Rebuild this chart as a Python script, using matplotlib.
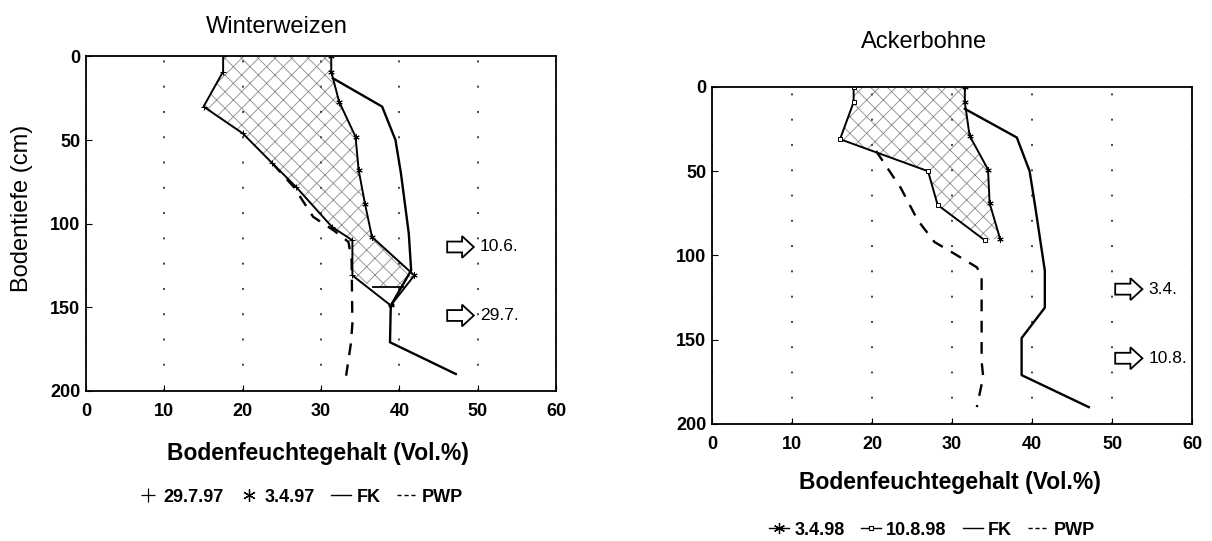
import numpy as np
import matplotlib.pyplot as plt
from matplotlib.lines import Line2D
from matplotlib.patches import FancyArrow

plt.rcParams['font.family'] = ['Liberation Sans', 'DejaVu Sans']
plt.rcParams['hatch.linewidth'] = 0.6

# ---- Winterweizen (values in Vol.%, depths in cm) ----
ww_2907_depth = [0, 9, 30, 46, 64, 78, 102, 110, 131, 149]
ww_2907_val = [17.5, 17.5, 15.0, 20.0, 23.8, 26.8, 31.4, 34.0, 34.0, 38.9]
ww_0304_depth = [0, 9, 27, 48, 68, 88, 108, 131, 149]
ww_0304_val = [31.3, 31.3, 32.3, 34.4, 34.8, 35.6, 36.5, 41.9, 38.9]
ww_fill_bottom_depth = [138, 138]
ww_fill_bottom_val = [36.6, 40.5]
ww_fk_depth = [13, 30, 50, 70, 106, 128, 149, 171, 190]
ww_fk_val = [31.5, 37.8, 39.5, 40.2, 41.2, 41.5, 38.9, 38.8, 47.2]
ww_pwp_depth = [64, 78, 96, 104, 111, 122, 160, 172, 191]
ww_pwp_val = [23.8, 26.5, 29.0, 31.6, 33.5, 33.9, 34.0, 33.8, 33.2]
ww_arrow_x = 46.1
ww_arrow_depth = [114, 155]
ww_arrow_text = ['10.6.', '29.7.']

# ---- Ackerbohne ----
ab_0304_depth = [0, 9, 29, 49, 69, 90]
ab_0304_val = [31.6, 31.6, 32.2, 34.5, 34.7, 36.0]
ab_1008_depth = [0, 9, 31, 50, 70, 91]
ab_1008_val = [17.7, 17.7, 16.0, 27.0, 28.2, 34.1]
ab_fk_depth = [13, 30, 50, 71, 109, 131, 149, 171, 190]
ab_fk_val = [31.6, 38.1, 39.7, 40.4, 41.6, 41.6, 38.7, 38.7, 47.1]
ab_pwp_depth = [38, 60, 79, 92, 99, 107, 112, 163, 172, 190]
ab_pwp_val = [20.5, 23.6, 25.7, 27.8, 30.3, 33.1, 33.7, 33.7, 33.9, 33.1]
ab_arrow_x = 50.4
ab_arrow_depth = [120, 161]
ab_arrow_text = ['3.4.', '10.8.']

star = (6, 2, 0)

fig = plt.figure(figsize=(12.12, 5.41), dpi=100)
ax1 = fig.add_axes([0.071, 0.2778, 0.3878, 0.6178])
ax2 = fig.add_axes([0.5875, 0.2163, 0.396, 0.623])


def style(ax):
    ax.set_xlim(0, 60)
    ax.set_ylim(200, 0)
    ax.set_xticks(range(0, 70, 10))
    ax.set_yticks(range(0, 250, 50))
    ax.xaxis.grid(True, linestyle=(0, (1, 12)), color='#444444', linewidth=1.4)
    ax.tick_params(direction='in', length=4, labelsize=13)
    ax.tick_params(axis='x', pad=9)
    ax.tick_params(axis='y', pad=4)
    for lab in ax.get_xticklabels() + ax.get_yticklabels():
        lab.set_fontweight('bold')
    for s in ax.spines.values():
        s.set_linewidth(1.3)


def arrows(ax, x0, depths, texts):
    for d, t in zip(depths, texts):
        ax.add_patch(FancyArrow(x0, d, 3.4, 0, width=6.5, head_width=13, head_length=1.5,
                                length_includes_head=True, fc='white', ec='black', lw=1.3))
        ax.text(x0 + 4.2, d, t, fontsize=12.5, va='center', ha='left')


# left panel
poly_x = ww_2907_val[:-1] + ww_fill_bottom_val + ww_0304_val[:-1][::-1]
poly_y = ww_2907_depth[:-1] + ww_fill_bottom_depth + ww_0304_depth[:-1][::-1]
ax1.fill(poly_x, poly_y, facecolor='white', edgecolor='#8a8a8a', hatch='xx', linewidth=0)
ax1.plot(ww_fill_bottom_val, ww_fill_bottom_depth, color='black', lw=1.3)
ax1.plot(ww_2907_val, ww_2907_depth, color='black', lw=1.4, marker='+', ms=5, mew=0.7)
ax1.plot(ww_0304_val, ww_0304_depth, color='black', lw=1.4, marker=star, ms=4.5, mew=0.7)
ax1.plot(ww_fk_val, ww_fk_depth, color='black', lw=1.7)
ax1.plot(ww_pwp_val, ww_pwp_depth, color='black', lw=1.7, dashes=(5, 4))
style(ax1)
arrows(ax1, ww_arrow_x, ww_arrow_depth, ww_arrow_text)

# right panel
poly_x = ab_1008_val + ab_0304_val[::-1]
poly_y = ab_1008_depth + ab_0304_depth[::-1]
ax2.fill(poly_x, poly_y, facecolor='white', edgecolor='#8a8a8a', hatch='xx', linewidth=0)
ax2.plot(ab_0304_val, ab_0304_depth, color='black', lw=1.4, marker=star, ms=4.5, mew=0.7)
ax2.plot(ab_1008_val, ab_1008_depth, color='black', lw=1.4, marker='s', ms=3, mew=0.7, mfc='white')
ax2.plot(ab_fk_val, ab_fk_depth, color='black', lw=1.7)
ax2.plot(ab_pwp_val, ab_pwp_depth, color='black', lw=1.7, dashes=(5, 4))
style(ax2)
arrows(ax2, ab_arrow_x, ab_arrow_depth, ab_arrow_text)

# titles and axis labels
fig.text(0.2285, 0.950, 'Winterweizen', fontsize=17, ha='center', va='center')
fig.text(0.7624, 0.922, 'Ackerbohne', fontsize=17, ha='center', va='center')
fig.text(0.018, 0.614, 'Bodentiefe (cm)', fontsize=17, rotation=90, ha='center', va='center')
fig.text(0.2624, 0.161, 'Bodenfeuchtegehalt (Vol.%)', fontsize=16.5, fontweight='bold',
         ha='center', va='center')
fig.text(0.7838, 0.109, 'Bodenfeuchtegehalt (Vol.%)', fontsize=16.5, fontweight='bold',
         ha='center', va='center')

legend_kw = dict(loc='center', ncol=4, frameon=False, handlelength=1.1, handletextpad=0.3,
                 columnspacing=0.9, prop={'weight': 'bold', 'size': 13})

h1 = [Line2D([], [], color='black', lw=0, marker='+', ms=10, mew=0.9),
      Line2D([], [], color='black', lw=0, marker=star, ms=9, mew=0.9),
      Line2D([], [], color='black', lw=1),
      Line2D([], [], color='black', lw=1, dashes=(3, 2))]
fig.legend(h1, ['29.7.97', '3.4.97', 'FK', 'PWP'], bbox_to_anchor=(0.248, 0.081), **legend_kw)

h2 = [Line2D([], [], color='black', lw=1, marker=star, ms=8, mew=0.9),
      Line2D([], [], color='black', lw=1, marker='s', ms=3.5, mew=0.8, mfc='white'),
      Line2D([], [], color='black', lw=1),
      Line2D([], [], color='black', lw=1, dashes=(3, 2))]
fig.legend(h2, ['3.4.98', '10.8.98', 'FK', 'PWP'], bbox_to_anchor=(0.769, 0.0203), **legend_kw)

fig.savefig('out.png', dpi=100)
